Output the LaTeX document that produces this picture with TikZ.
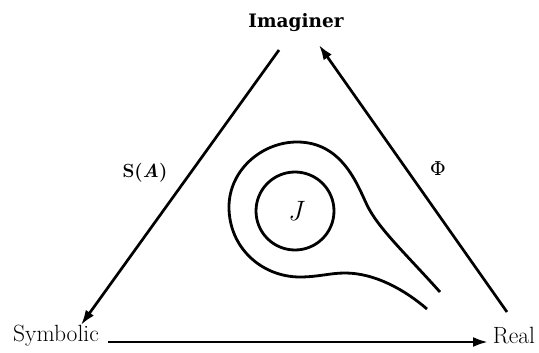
\documentclass[tikz,border=0pt]{standalone}
\usepackage{fontspec}
\newfontfamily\imagfont{DejaVu Serif}
\usetikzlibrary{arrows.meta}
\begin{document}
\begin{tikzpicture}[x=1pt,y=-1pt,
  lbl/.style={font=\fontsize{23.5}{26}\selectfont, inner sep=0pt},
  edge/.style={line width=2.7pt, -{Latex[length=15pt,width=10pt]}},
  curve/.style={line width=2.8pt}]
\useasboundingbox (0,0) rectangle (539,353);
\node[font=\imagfont\bfseries\fontsize{18.5}{21}\selectfont, inner sep=0pt] (img) at (296,23) {Imaginer};
\node[lbl] (sym) at (56,336) {Symbolic};
\node[lbl] (real) at (514,336) {Real};
\node[font=\bfseries\fontsize{19}{21}\selectfont, inner sep=0pt] (sa) at (145,173) {S(\textit{A})};
\node[font=\imagfont\fontsize{19}{21}\selectfont, inner sep=0pt] (phi) at (438,169) {Φ};
\node[draw, circle, line width=2.8pt, minimum size=78pt, inner sep=0pt,
      font=\itshape\fontsize{28}{30}\selectfont] (J) at (295,211) {J};
\coordinate (lt) at (279,50);
\coordinate (lb) at (81,325);
\coordinate (rb) at (507,312);
\coordinate (rt) at (319,45);
\coordinate (bl) at (108,342);
\coordinate (br) at (488,342);
\draw[edge] (lt) -- (lb);
\draw[edge] (rb) -- (rt);
\draw[edge] (bl) -- (br);
\draw[curve] (440,292) .. controls (405,253) and (378,228) .. (367,205)
  .. controls (357,184) and (342,142) .. (297,142)
  .. controls (262,142) and (229,170) .. (229,207)
  .. controls (229,248) and (262,277) .. (300,277)
  .. controls (318,277) and (330,273) .. (345,273)
  .. controls (375,273) and (405,290) .. (427,309);
\end{tikzpicture}
\end{document}
